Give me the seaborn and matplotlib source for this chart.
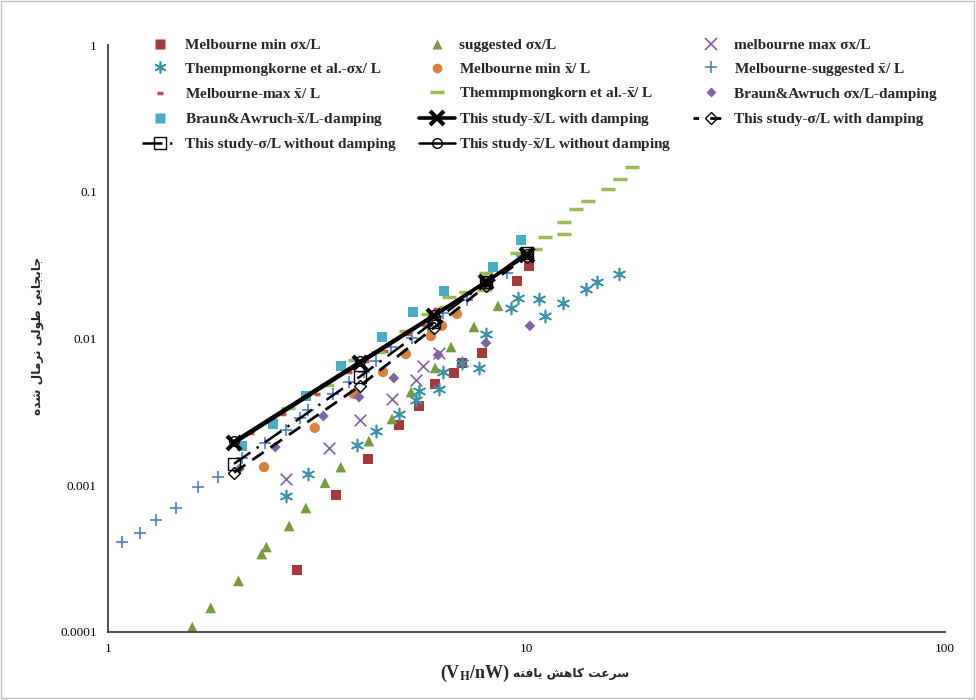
import matplotlib
matplotlib.use("Agg")
import matplotlib.pyplot as plt
import seaborn as sns
from matplotlib.lines import Line2D
from matplotlib.patches import Rectangle
from matplotlib.font_manager import FontProperties
from matplotlib.ticker import LogLocator, NullFormatter, FuncFormatter

sns.set_theme(style="white")
plt.rcParams["font.family"] = ["Liberation Serif", "DejaVu Sans"]
plt.rcParams["mathtext.fontset"] = "stix"

# ---------------- data ----------------
mel_min_sig_x = [2.83, 3.51, 4.18, 4.96, 5.54, 6.05, 6.71, 7.01, 7.83, 9.49, 10.14]
mel_min_sig_y = [2.65e-4, 8.6e-4, 1.51e-3, 2.57e-3, 3.47e-3, 4.9e-3, 5.82e-3, 6.81e-3, 7.97e-3, 2.47e-2, 3.12e-2]

sugg_sig_x = [1.59, 1.76, 2.05, 2.33, 2.39, 2.71, 2.97, 3.30, 3.60, 4.20, 4.77, 5.30, 6.05, 6.60, 7.49, 8.55]
sugg_sig_y = [1.08e-4, 1.46e-4, 2.23e-4, 3.40e-4, 3.80e-4, 5.28e-4, 7.0e-4, 1.04e-3, 1.33e-3, 2.0e-3,
              2.83e-3, 4.32e-3, 6.30e-3, 8.75e-3, 1.20e-2, 1.67e-2]

mel_max_sig_x = [2.66, 3.37, 4.00, 4.77, 5.45, 5.66, 6.18]
mel_max_sig_y = [1.10e-3, 1.79e-3, 2.78e-3, 3.87e-3, 5.22e-3, 6.50e-3, 7.97e-3]

thep_sig_x = [2.66, 3.01, 3.94, 4.37, 4.96, 5.45, 5.54, 6.18, 6.32, 7.01, 7.70, 8.00, 9.18, 9.54, 10.7,
              11.1, 12.2, 13.9, 14.7, 16.6]
thep_sig_y = [8.45e-4, 1.19e-3, 1.88e-3, 2.34e-3, 3.06e-3, 3.81e-3, 4.39e-3, 4.53e-3, 5.91e-3, 6.81e-3,
              6.30e-3, 1.07e-2, 1.61e-2, 1.89e-2, 1.86e-2, 1.42e-2, 1.75e-2, 2.18e-2, 2.43e-2, 2.75e-2]

mel_min_mean_x = [2.36, 3.12, 3.87, 4.54, 5.15, 5.91, 6.28, 6.82]
mel_min_mean_y = [1.33e-3, 2.46e-3, 4.19e-3, 5.91e-3, 7.84e-3, 1.04e-2, 1.22e-2, 1.47e-2]

mel_sugg_mean_x = [1.08, 1.19, 1.30, 1.45, 1.64, 1.83, 2.09, 2.37, 2.66, 2.88, 3.00, 3.45, 3.77, 4.09,
                   4.37, 4.75, 5.33, 5.82, 6.32, 7.21, 8.05, 8.98, 9.76]
mel_sugg_mean_y = [4.1e-4, 4.7e-4, 5.8e-4, 7.0e-4, 9.7e-4, 1.14e-3, 1.53e-3, 1.94e-3, 2.38e-3, 2.87e-3,
                   3.26e-3, 4.19e-3, 5.05e-3, 5.91e-3, 7.03e-3, 8.75e-3, 1.01e-2, 1.22e-2, 1.49e-2,
                   1.83e-2, 2.39e-2, 2.80e-2, 3.65e-2]

mel_max_mean_x = [2.20, 2.62, 3.16, 3.77, 4.14, 4.59, 5.21, 5.72, 6.08]
mel_max_mean_y = [2.27e-3, 3.06e-3, 4.19e-3, 5.91e-3, 7.03e-3, 8.22e-3, 1.07e-2, 1.24e-2, 1.59e-2]

thep_mean_x = [2.69, 3.34, 3.89, 4.42, 5.15, 5.82, 6.42, 6.53, 7.17, 7.92, 8.00, 9.49, 10.5, 11.1,
               12.3, 12.3, 13.1, 14.0, 15.7, 16.7, 17.9]
thep_mean_y = [3.36e-3, 4.82e-3, 7.14e-3, 8.09e-3, 1.13e-2, 1.47e-2, 1.64e-2, 1.92e-2, 2.07e-2, 2.14e-2,
               2.80e-2, 3.83e-2, 4.07e-2, 4.91e-2, 5.15e-2, 6.22e-2, 7.63e-2, 8.65e-2, 0.104, 0.122, 0.147]

braun_sig_x = [2.06, 2.51, 3.27, 3.98, 4.82, 6.15, 8.00, 10.19]
braun_sig_y = [1.29e-3, 1.82e-3, 2.96e-3, 3.99e-3, 5.38e-3, 7.72e-3, 9.32e-3, 1.22e-2]

braun_mean_x = [2.09, 2.48, 2.97, 3.60, 4.52, 5.36, 6.35, 8.32, 9.70]
braun_mean_y = [1.85e-3, 2.62e-3, 4.06e-3, 6.50e-3, 1.02e-2, 1.52e-2, 2.11e-2, 3.07e-2, 4.69e-2]

study_x = [2, 4, 6, 8, 10]
study_mean_damp = [1.94e-3, 6.8e-3, 1.42e-2, 2.43e-2, 3.7e-2]
study_mean_nodamp = [2.0e-3, 7.0e-3, 1.45e-2, 2.45e-2, 3.78e-2]
study_sig_nodamp = [1.4e-3, 5.5e-3, 1.3e-2, 2.42e-2, 3.85e-2]
study_sig_damp = [1.22e-3, 4.75e-3, 1.18e-2, 2.28e-2, 3.6e-2]

XB = r"$\bar{\mathbf{x}}$"
labels = [
    "Melbourne min σx/L", "suggested σx/L", "melbourne max σx/L",
    "Thempmongkorne et al.-σx/ L", "Melbourne min " + XB + "/ L", "Melbourne-suggested " + XB + "/ L",
    "Melbourne-max " + XB + "/ L", "Themmpmongkorn et al.-" + XB + "/ L", "Braun&Awruch σx/L-damping",
    "Braun&Awruch-" + XB + "/L-damping", "This study-" + XB + "/L with damping", "This study-σ/L with damping",
    "This study-σ/L without damping", "This study-" + XB + "/L without damping",
]

# ---------------- persian shaping helper ----------------
FORMS = {
    "ا": ("\uFE8D", "\uFE8E", None, None),
    "ب": ("\uFE8F", "\uFE90", "\uFE91", "\uFE92"),
    "ت": ("\uFE95", "\uFE96", "\uFE97", "\uFE98"),
    "ج": ("\uFE9D", "\uFE9E", "\uFE9F", "\uFEA0"),
    "د": ("\uFEA9", "\uFEAA", None, None),
    "ر": ("\uFEAD", "\uFEAE", None, None),
    "س": ("\uFEB1", "\uFEB2", "\uFEB3", "\uFEB4"),
    "ش": ("\uFEB5", "\uFEB6", "\uFEB7", "\uFEB8"),
    "ط": ("\uFEC1", "\uFEC2", "\uFEC3", "\uFEC4"),
    "ع": ("\uFEC9", "\uFECA", "\uFECB", "\uFECC"),
    "ف": ("\uFED1", "\uFED2", "\uFED3", "\uFED4"),
    "ل": ("\uFEDD", "\uFEDE", "\uFEDF", "\uFEE0"),
    "م": ("\uFEE1", "\uFEE2", "\uFEE3", "\uFEE4"),
    "ن": ("\uFEE5", "\uFEE6", "\uFEE7", "\uFEE8"),
    "ه": ("\uFEE9", "\uFEEA", "\uFEEB", "\uFEEC"),
    "و": ("\uFEED", "\uFEEE", None, None),
    "ک": ("\uFB8E", "\uFB8F", "\uFB90", "\uFB91"),
    "ی": ("\uFBFC", "\uFBFD", "\uFBFE", "\uFBFF"),
}


def shape_rtl(s):
    out = []
    for i, ch in enumerate(s):
        if ch not in FORMS:
            out.append(ch)
            continue
        iso, fin, ini, med = FORMS[ch]
        prev = s[i - 1] if i > 0 else ""
        nxt = s[i + 1] if i + 1 < len(s) else ""
        cp = prev in FORMS and FORMS[prev][2] is not None
        cn = ini is not None and nxt in FORMS
        out.append(med if cp and cn else fin if cp else ini if cn else iso)
    return "".join(reversed(out))


# ---------------- figure ----------------
fig = plt.figure(figsize=(9.76, 7.0), dpi=100)
fig.patch.set_facecolor("white")
ax = fig.add_axes([108 / 976, 68 / 700, 837 / 976, 587 / 700])
ax.set_facecolor("white")

scat = [
    (mel_min_sig_x, mel_min_sig_y, dict(marker="s", s=50, color="#A5393B", edgecolor="none")),
    (sugg_sig_x, sugg_sig_y, dict(marker="^", s=60, color="#7A9A3E", edgecolor="none")),
    (mel_max_sig_x, mel_max_sig_y, dict(marker="x", s=70, color="#7F63A1", linewidth=1.2)),
    (thep_sig_x, thep_sig_y, dict(marker=(6, 2, 0), s=75, color="#3A93AC", linewidth=1.2)),
    (mel_min_mean_x, mel_min_mean_y, dict(marker="o", s=55, color="#D9813A", edgecolor="none")),
    (mel_sugg_mean_x, mel_sugg_mean_y, dict(marker="+", s=80, color="#4A7FC8", linewidth=1.2)),
    (mel_max_mean_x, mel_max_mean_y, dict(marker="_", s=25, color="#C0504D", linewidth=2.5)),
    (thep_mean_x, thep_mean_y, dict(marker="_", s=90, color="#9BBB59", linewidth=2.5)),
    (braun_sig_x, braun_sig_y, dict(marker="D", s=30, color="#8064A2", edgecolor="none")),
    (braun_mean_x, braun_mean_y, dict(marker="s", s=50, color="#4BACC6", edgecolor="none")),
]
for x, y, kw in scat:
    sns.scatterplot(x=x, y=y, ax=ax, legend=False, zorder=2, **kw)

study = [
    (study_mean_damp, dict(linestyle="-", linewidth=2.6, marker="x", markersize=10, markeredgewidth=3,
                           color="black", markeredgecolor="black")),
    (study_sig_damp, dict(linestyle=(0, (5, 3)), linewidth=2.0, marker="D", markersize=6, markeredgewidth=1,
                          markerfacecolor="none", color="black", markeredgecolor="black")),
    (study_sig_nodamp, dict(linestyle=(0, (8, 3, 1, 3)), linewidth=1.8, marker="s", markersize=8,
                            markeredgewidth=1, markerfacecolor="none", color="black", markeredgecolor="black")),
    (study_mean_nodamp, dict(linestyle="-", linewidth=1.8, marker="o", markersize=7, markeredgewidth=1,
                             markerfacecolor="none", color="black", markeredgecolor="black")),
]
for y, kw in study:
    sns.lineplot(x=study_x, y=y, ax=ax, legend=False, zorder=3, **kw)

ax.set_xscale("log")
ax.set_yscale("log")
ax.set_xlim(1, 100)
ax.set_ylim(1e-4, 1)

fmt = FuncFormatter(lambda v, p: "{:g}".format(v))
for axis in (ax.xaxis, ax.yaxis):
    axis.set_major_locator(LogLocator(base=10))
    axis.set_minor_locator(LogLocator(base=10, subs=range(2, 10)))
    axis.set_major_formatter(fmt)
    axis.set_minor_formatter(NullFormatter())

ax.tick_params(which="both", direction="in", colors="#404040", labelcolor="black", width=1)
ax.tick_params(which="major", length=5, labelsize=9.5)
ax.tick_params(which="minor", length=3.5)
ax.tick_params(axis="y", which="major", pad=8)
ax.tick_params(axis="x", which="major", pad=8)
for lab in ax.get_xticklabels() + ax.get_yticklabels():
    lab.set_fontfamily("Liberation Serif")

for sp in ("top", "right"):
    ax.spines[sp].set_visible(False)
for sp in ("left", "bottom"):
    ax.spines[sp].set_color("#404040")
    ax.spines[sp].set_linewidth(1.3)

# axis titles
ax.text((38 - 108) / 837, (632 - 336) / 587, shape_rtl("جابجایی طولی نرمال شده"), rotation=90,
        ha="center", va="center", transform=ax.transAxes, fontfamily="DejaVu Sans", fontweight="bold",
        fontsize=8.8)
ax.text((510 - 108) / 837, (632 - 673) / 587, r"(V$_{\mathbf{H}}$/nW)", ha="right", va="center",
        transform=ax.transAxes, fontfamily="Liberation Serif", fontweight="bold", fontsize=13)
ax.text((513 - 108) / 837, (632 - 673) / 587, shape_rtl("سرعت کاهش یافته"), ha="left", va="center",
        transform=ax.transAxes, fontfamily="DejaVu Sans", fontweight="bold", fontsize=8.8)

# legend (one entry per legend so columns are evenly spaced as in the reference)
handles = [
    Line2D([], [], ls="none", marker="s", ms=7, color="#A5393B", mec="none"),
    Line2D([], [], ls="none", marker="^", ms=7.5, color="#7A9A3E", mec="none"),
    Line2D([], [], ls="none", marker="x", ms=8, color="#7F63A1", mew=1.2),
    Line2D([], [], ls="none", marker=(6, 2, 0), ms=8.5, color="#3A93AC", mew=1.2),
    Line2D([], [], ls="none", marker="o", ms=7, color="#D9813A", mec="none"),
    Line2D([], [], ls="none", marker="+", ms=9, color="#4A7FC8", mew=1.2),
    Line2D([], [], ls="none", marker="_", ms=5, color="#C0504D", mew=2.5),
    Line2D([], [], ls="none", marker="_", ms=9.5, color="#9BBB59", mew=2.5),
    Line2D([], [], ls="none", marker="D", ms=5.5, color="#8064A2", mec="none"),
    Line2D([], [], ls="none", marker="s", ms=7, color="#4BACC6", mec="none"),
    Line2D([], [], **study[0][1]),
    Line2D([], [], **dict(study[1][1], linestyle=(2, (4, 4)))),
    Line2D([], [], **study[2][1]),
    Line2D([], [], **study[3][1]),
]
leg_font = FontProperties(family="Liberation Serif", weight="bold", size=11)
col_marker_x = [160, 437, 711]
col_text_x = [185, 459, 734]
row_y = [45.5, 69, 94, 119.5, 144.5]
fs_px = 11 * 100 / 72
hl = 2.3
for i, (h, lab) in enumerate(zip(handles, labels)):
    r, c = divmod(i, 3)
    left = col_marker_x[c] - hl * fs_px / 2
    pad = (col_text_x[c] - (left + hl * fs_px)) / fs_px
    fig.legend(handles=[h], labels=[lab], loc="center left",
               bbox_to_anchor=(left / 976, 1 - row_y[r] / 700), frameon=False, borderpad=0,
               borderaxespad=0, handlelength=hl, handletextpad=pad, prop=leg_font, numpoints=1)

fig.patches.append(Rectangle((0.001, 0.003), 0.997, 0.995, transform=fig.transFigure, fill=False,
                             edgecolor="#BFBFBF", linewidth=1))

fig.savefig("out.png", dpi=100)
